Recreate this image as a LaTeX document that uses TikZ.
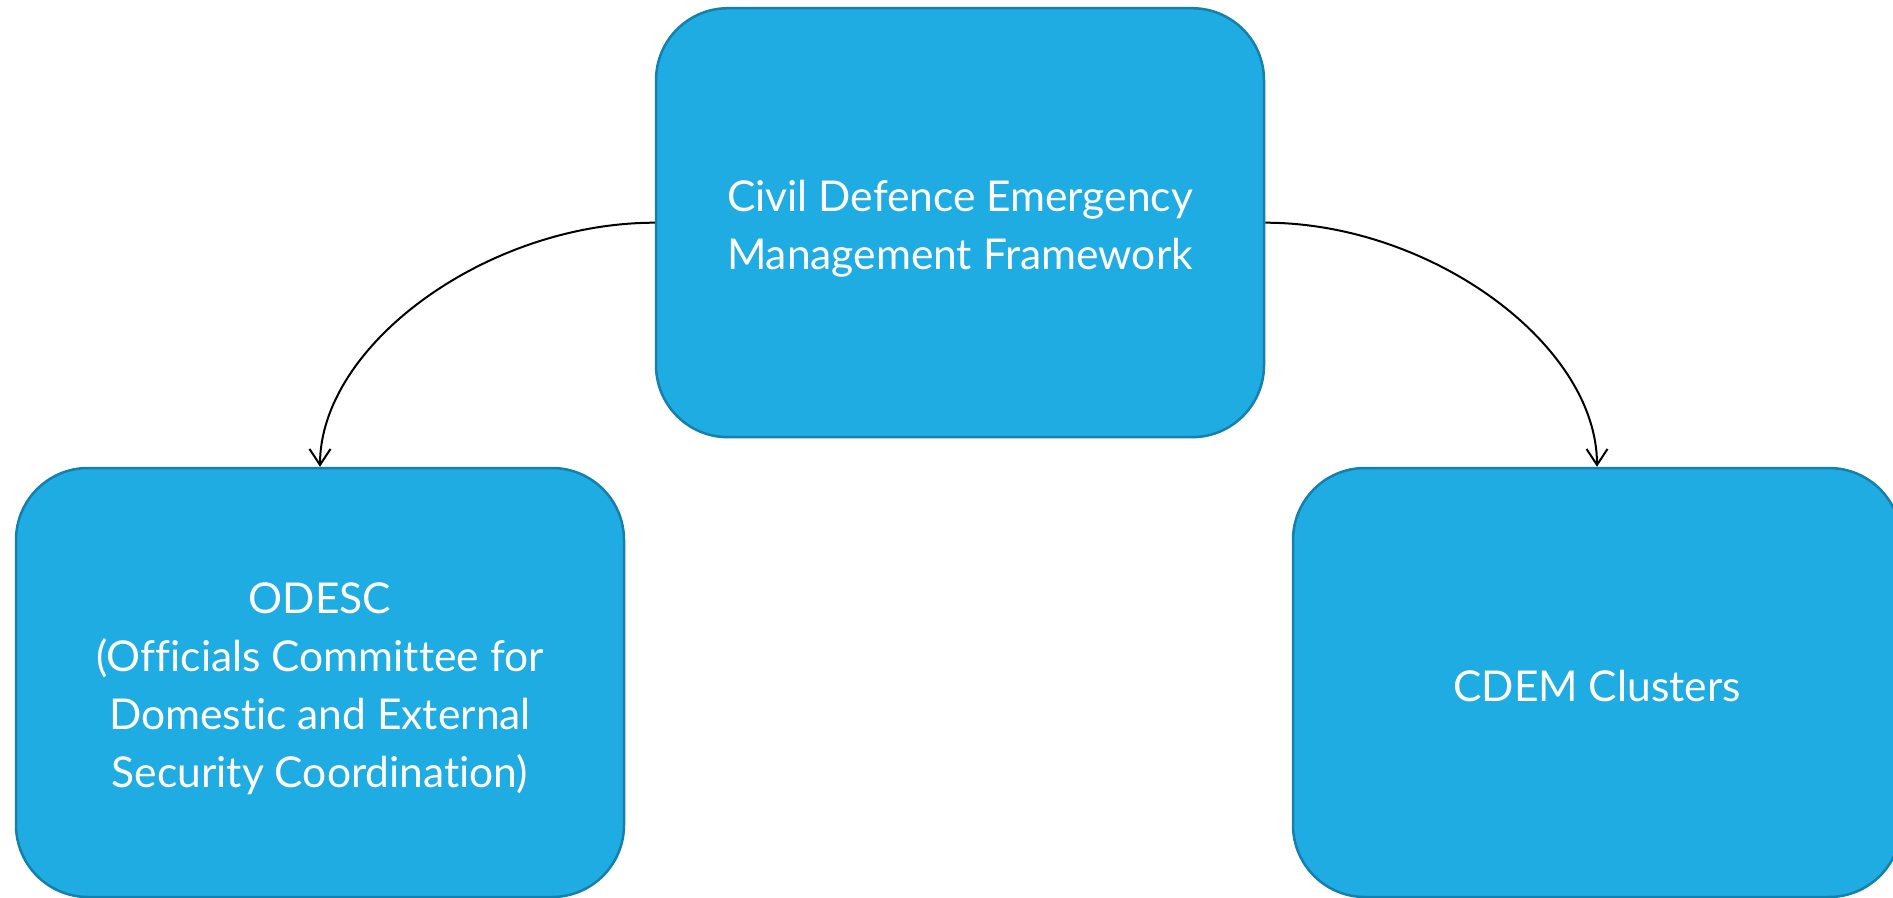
\documentclass[tikz,border=0pt]{standalone}
\usepackage{fontspec}
\setmainfont{Lato}[Ligatures={NoCommon,NoRare}]
\usetikzlibrary{arrows.meta,calc}
\definecolor{boxfill}{RGB}{31,172,227}
\definecolor{boxline}{RGB}{22,128,172}
\begin{document}
\begin{tikzpicture}[x=1pt,y=-1pt,
  boxstyle/.style={draw=boxline, fill=boxfill, line width=2.5pt, rounded corners=72pt,
    minimum width=608pt, minimum height=429pt, inner sep=0pt},
  boxtext/.style={align=center, inner sep=0pt, text=white, font=\fontsize{42.5}{58}\selectfont},
  link/.style={line width=2pt, -{Straight Barb[length=16pt,width=21pt]}}]
\useasboundingbox (0,0) rectangle (1893,897);
\node[boxstyle] (top) at (960,222.7) {};
\node[boxstyle] (left) at (320,682.5) {};
\node[boxstyle] (right) at (1597,682.5) {};
\node[boxtext] (toptext) at ($(top.center)+(0,6)$) {Civil Defence Emergency\\Management Framework};
\node[boxtext] (lefttext) at ($(left.center)+(0,6)$) {ODESC\\(Officials Committee for\\Domestic and External\\Security Coordination)};
\node[boxtext] (righttext) at ($(right.center)+(0,4)$) {CDEM Clusters};
\coordinate (lc) at (left.north |- top.west);
\coordinate (rc) at (right.north |- top.east);
\draw[link] (top.west) .. controls ($(top.west)!0.5!(lc)$) and ($(left.north)!0.5!(lc)$) .. (left.north);
\draw[link] (top.east) .. controls ($(top.east)!0.5!(rc)$) and ($(right.north)!0.5!(rc)$) .. (right.north);
\end{tikzpicture}
\end{document}
